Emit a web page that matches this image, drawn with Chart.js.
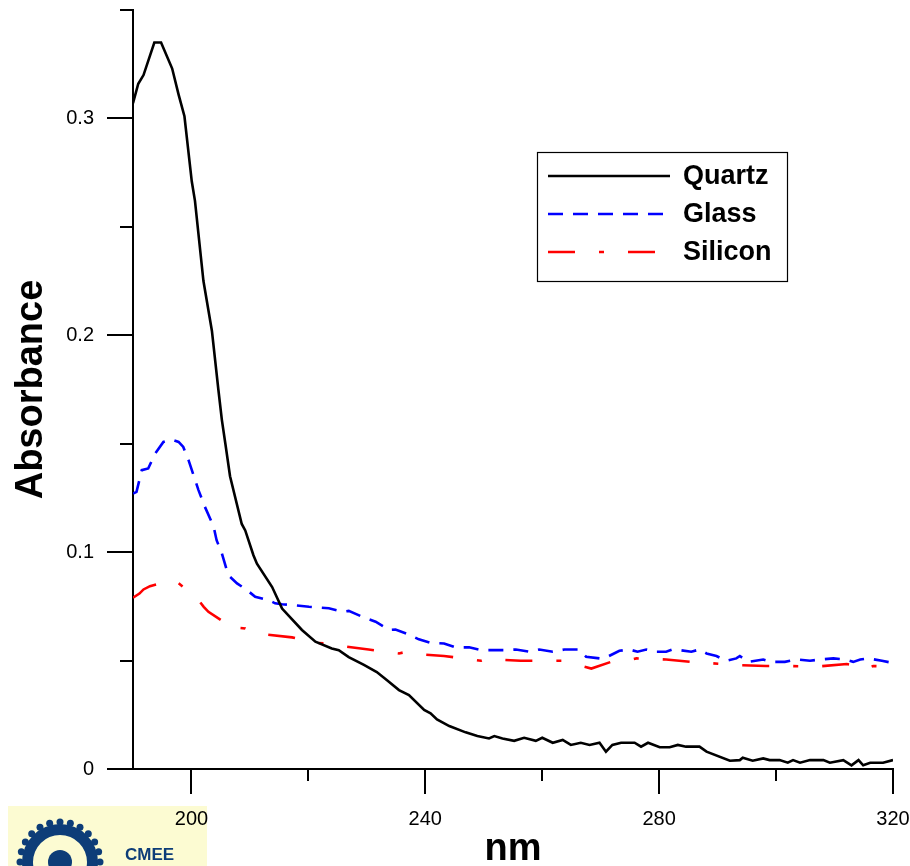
<!DOCTYPE html>
<html>
<head>
<meta charset="utf-8">
<script src="https://cdn.jsdelivr.net/npm/chart.js@4.4.1/dist/chart.umd.min.js"></script>
<style>
  body { margin: 0; background: #fff; }
  #wrap { width: 910px; height: 866px; }
</style>
</head>
<body>
<div id="wrap"><canvas id="myChart" width="910" height="866"></canvas></div>
<script>
// Wavelength (nm) and absorbance
const quartzNm = [190.0, 190.9, 191.8, 193.65, 194.8, 196.7, 197.8, 198.8, 200.05, 200.6, 202.05, 203.5, 204.6, 205.2, 205.8, 206.6, 208.6, 209.2, 210.6, 211.2, 213.8, 215.5, 218.9, 221.2, 224.0, 225.2, 226.9, 229.5, 231.7, 233.4, 235.5, 237.2, 239.8, 240.9, 242.0, 244.1, 246.9, 248.9, 250.9, 251.8, 253.2, 255.2, 256.9, 258.9, 260.0, 261.8, 263.5, 264.9, 266.6, 268.1, 269.8, 270.9, 272.0, 273.5, 275.8, 276.9, 278.1, 280.1, 281.8, 283.2, 284.6, 286.9, 288.1, 292.1, 293.8, 294.3, 296.0, 297.8, 298.9, 300.6, 302.0, 302.9, 304.1, 305.8, 308.1, 309.2, 311.5, 312.9, 314.1, 314.9, 316.1, 318.3, 320.0];
const quartzAbs = [0.307, 0.316, 0.320, 0.335, 0.335, 0.323, 0.311, 0.301, 0.271, 0.262, 0.225, 0.202, 0.175, 0.161, 0.150, 0.135, 0.113, 0.110, 0.0986, 0.0947, 0.0839, 0.0740, 0.0641, 0.0587, 0.0556, 0.0548, 0.0516, 0.048, 0.0447, 0.041, 0.0364, 0.0341, 0.0272, 0.0257, 0.0229, 0.0198, 0.0169, 0.0152, 0.0141, 0.0152, 0.0141, 0.0130, 0.0144, 0.0130, 0.0144, 0.0121, 0.0134, 0.0111, 0.0121, 0.0111, 0.0121, 0.0080, 0.0111, 0.0121, 0.0121, 0.0103, 0.0121, 0.0100, 0.0100, 0.0111, 0.0103, 0.0103, 0.0080, 0.0038, 0.0041, 0.0052, 0.0038, 0.0049, 0.0041, 0.0041, 0.0029, 0.0041, 0.0029, 0.0041, 0.0041, 0.0029, 0.0041, 0.0017, 0.0041, 0.0017, 0.0029, 0.0029, 0.0041];

const glassNm = [190.0, 190.6, 191.5, 192.6, 193.8, 195.2, 196.6, 197.8, 198.6, 199.5, 201.2, 202.3, 203.8, 204.3, 205.2, 206.3, 207.8, 209.5, 210.9, 213.2, 214.3, 215.5, 217.2, 220.1, 223.5, 225.8, 226.9, 229.2, 231.5, 233.8, 234.9, 237.2, 238.9, 240.9, 243.2, 245.2, 247.5, 249.5, 251.5, 253.5, 255.5, 257.8, 259.5, 261.8, 263.8, 266.3, 267.5, 269.8, 270.9, 273.2, 274.9, 276.3, 277.8, 279.2, 281.2, 282.3, 283.5, 285.5, 286.9, 288.1, 289.8, 291.5, 293.2, 293.8, 295.2, 297.8, 299.2, 301.5, 303.5, 305.8, 307.5, 309.8, 311.8, 313.2, 314.4, 315.8, 318.1, 320.0];
const glassAbs = [0.127, 0.1278, 0.1378, 0.1386, 0.1455, 0.1508, 0.1519, 0.1508, 0.1485, 0.1424, 0.1286, 0.1209, 0.1117, 0.1055, 0.0994, 0.0894, 0.0856, 0.0825, 0.0794, 0.0779, 0.0764, 0.0760, 0.0756, 0.0748, 0.0741, 0.0725, 0.0729, 0.0702, 0.0679, 0.0641, 0.0643, 0.0620, 0.0598, 0.0582, 0.0579, 0.0561, 0.0561, 0.0548, 0.0548, 0.0548, 0.0551, 0.0541, 0.0551, 0.0541, 0.0551, 0.0551, 0.0518, 0.0510, 0.0514, 0.0545, 0.0551, 0.0541, 0.0551, 0.0541, 0.0541, 0.0551, 0.0548, 0.0541, 0.0551, 0.0533, 0.0521, 0.0499, 0.0510, 0.0521, 0.0494, 0.0505, 0.0494, 0.0494, 0.0505, 0.0499, 0.0505, 0.0510, 0.0505, 0.0494, 0.0505, 0.0510, 0.0499, 0.0489];

const siliconNm = [190.0, 191.1, 191.8, 192.9, 196.6, 197.5, 200.3, 201.2, 202.1, 202.9, 205.5, 205.8, 209.2, 210.3, 212.6, 217.2, 221.2, 223.5, 225.8, 230.3, 235.5, 236.9, 238.6, 243.2, 248.0, 249.5, 250.6, 252.1, 256.3, 261.2, 263.5, 264.9, 268.4, 272.3, 274.3, 276.1, 281.2, 285.5, 286.9, 289.2, 293.8, 298.3, 302.3, 306.9, 312.1, 313.8, 315.2, 316.6, 320.0];
const siliconAbs = [0.0790, 0.0809, 0.0828, 0.0843, 0.0871, 0.0863, 0.0802, 0.0779, 0.0748, 0.0725, 0.0679, 0.0656, 0.0648, 0.0630, 0.0621, 0.0607, 0.0582, 0.0579, 0.0567, 0.0551, 0.0533, 0.0541, 0.0530, 0.0521, 0.0505, 0.0499, 0.0510, 0.0505, 0.0499, 0.0499, 0.0499, 0.0489, 0.0463, 0.0499, 0.0499, 0.0510, 0.0505, 0.0494, 0.0499, 0.0487, 0.0479, 0.0475, 0.0475, 0.0472, 0.0484, 0.0475, 0.0459, 0.0475, 0.0472];

const seriesNames = ['Quartz', 'Glass', 'Silicon'];

// Axis ticks: all tick marks, and the ones that get a label
const xTicks = [200, 220, 240, 260, 280, 300, 320];
const xLabels = [200, 240, 280, 320];
const yTicks = [0, 0.05, 0.1, 0.15, 0.2, 0.25, 0.3, 0.35];
const yLabels = [0, 0.1, 0.2, 0.3];

const FONT = '"Liberation Sans", Arial, sans-serif';
const pts = (xs, ys) => xs.map((x, i) => ({x: x, y: ys[i]}));

// tick marks of two lengths, drawn outside the axes
const tickMarks = {
  id: 'tickMarks',
  afterDraw(chart) {
    const {ctx, scales: {x, y}, chartArea: a} = chart;
    ctx.save();
    ctx.strokeStyle = '#000';
    ctx.lineWidth = 2;
    ctx.beginPath();
    xTicks.forEach(v => {
      const px = Math.round(x.getPixelForValue(v));
      const len = xLabels.includes(v) ? 25 : 12;
      ctx.moveTo(px, a.bottom); ctx.lineTo(px, a.bottom + len);
    });
    yTicks.forEach(v => {
      const py = Math.round(y.getPixelForValue(v));
      const len = yLabels.some(l => Math.abs(l - v) < 1e-9) ? 26 : 13;
      ctx.moveTo(a.left, py); ctx.lineTo(a.left - len, py);
    });
    ctx.stroke();
    ctx.restore();
  }
};

// boxed legend with line samples, inside the plot
const boxLegend = {
  id: 'boxLegend',
  afterDraw(chart) {
    const ctx = chart.ctx;
    ctx.save();
    ctx.strokeStyle = '#000';
    ctx.lineWidth = 1.2;
    ctx.strokeRect(537.5, 152.5, 250, 129);
    ctx.font = 'bold 27px ' + FONT;
    ctx.textBaseline = 'middle';
    chart.data.datasets.forEach((ds, i) => {
      const yy = 176 + i * 38;
      ctx.strokeStyle = ds.borderColor;
      ctx.lineWidth = ds.borderWidth;
      ctx.setLineDash(ds.borderDash || []);
      ctx.beginPath();
      ctx.moveTo(548, yy); ctx.lineTo(670, yy);
      ctx.stroke();
      ctx.setLineDash([]);
      ctx.fillStyle = '#000';
      ctx.fillText(ds.label, 683, yy + 1);
    });
    ctx.restore();
  }
};

// the CMEE watermark in the lower left corner
const watermark = {
  id: 'watermark',
  beforeDraw(chart) {
    const ctx = chart.ctx;
    ctx.save();
    ctx.fillStyle = '#fcfbd2';
    ctx.fillRect(8, 806, 199, 60);
    ctx.fillStyle = '#0d3d78';
    ctx.beginPath();
    ctx.arc(60, 862, 38, 0, Math.PI * 2);
    ctx.arc(60, 862, 27, 0, Math.PI * 2, true);
    ctx.fill();
    for (let k = 0; k < 24; k++) {
      const t = k * Math.PI / 12;
      ctx.beginPath();
      ctx.arc(60 + Math.cos(t) * 40, 862 + Math.sin(t) * 40, 3.5, 0, Math.PI * 2);
      ctx.fill();
    }
    ctx.beginPath();
    ctx.arc(60, 862, 12, 0, Math.PI * 2);
    ctx.fill();
    ctx.font = 'bold 17px ' + FONT;
    ctx.textBaseline = 'alphabetic';
    ctx.fillText('CMEE', 125, 860);
    ctx.restore();
  }
};

const chart = new Chart(document.getElementById('myChart').getContext('2d'), {
  type: 'line',
  data: {
    datasets: [
      {
        label: seriesNames[0],
        data: pts(quartzNm, quartzAbs),
        borderColor: '#000000',
        borderWidth: 2.6
      },
      {
        label: seriesNames[1],
        data: pts(glassNm, glassAbs),
        borderColor: '#0000ff',
        borderWidth: 2.6,
        borderDash: [15, 10]
      },
      {
        label: seriesNames[2],
        data: pts(siliconNm, siliconAbs),
        borderColor: '#ff0000',
        borderWidth: 2.6,
        borderDash: [27, 24, 5, 24]
      }
    ]
  },
  options: {
    responsive: false,
    animation: false,
    layout: { padding: { top: 10, right: 17, left: 0, bottom: 0 } },
    elements: { point: { radius: 0 }, line: { tension: 0, fill: false } },
    plugins: { legend: { display: false }, tooltip: { enabled: false } },
    scales: {
      x: {
        type: 'linear',
        min: 190,
        max: 320,
        afterBuildTicks: s => { s.ticks = xTicks.map(v => ({value: v})); },
        afterFit: s => { s.height = 97; s.paddingLeft = 0; s.paddingRight = 0; },
        border: { display: true, color: '#000', width: 2 },
        grid: { drawOnChartArea: false, drawTicks: true, tickLength: 26, tickColor: 'rgba(0,0,0,0)' },
        ticks: {
          padding: 12,
          maxRotation: 0,
          color: '#000',
          font: { family: FONT, size: 20 },
          callback: v => xLabels.includes(v) ? String(v) : ''
        },
        title: {
          display: true,
          text: 'nm',
          color: '#000',
          font: { family: FONT, size: 38, weight: 'bold', lineHeight: 1 },
          padding: { top: 0, bottom: -3 }
        }
      },
      y: {
        type: 'linear',
        min: 0,
        max: 0.35,
        afterBuildTicks: s => { s.ticks = yTicks.map(v => ({value: v})); },
        afterFit: s => { s.width = 133; s.paddingTop = 0; s.paddingBottom = 0; },
        border: { display: true, color: '#000', width: 2 },
        grid: { drawOnChartArea: false, drawTicks: true, tickLength: 26, tickColor: 'rgba(0,0,0,0)' },
        ticks: {
          padding: 13,
          color: '#000',
          font: { family: FONT, size: 20 },
          callback: v => yLabels.some(l => Math.abs(l - v) < 1e-9) ? String(+v.toFixed(2)) : ''
        },
        title: {
          display: true,
          text: 'Absorbance',
          color: '#000',
          font: { family: FONT, size: 38, weight: 'bold', lineHeight: 1 },
          padding: { top: 13, bottom: 0 }
        }
      }
    }
  },
  plugins: [watermark, tickMarks, boxLegend]
});
</script>
</body>
</html>
